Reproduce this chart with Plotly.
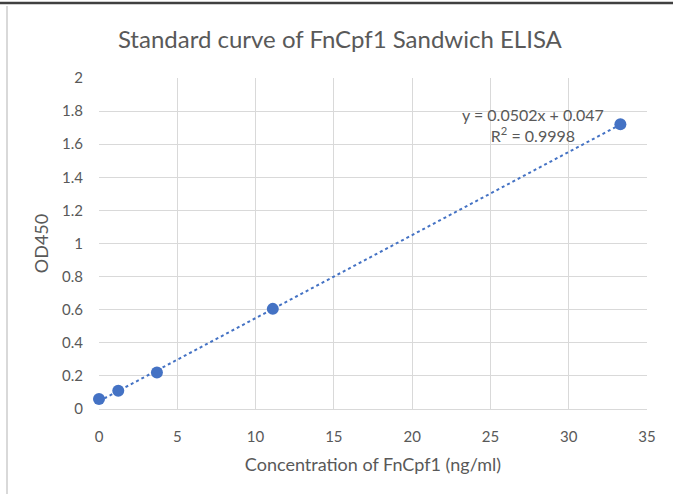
import plotly.graph_objects as go

# Data
concentration = [0, 1.23, 3.7, 11.1, 33.3]
od450 = [0.06, 0.11, 0.22, 0.605, 1.72]
slope = 0.0502
intercept = 0.047
r_squared = 0.9998
x_ticks = [0, 5, 10, 15, 20, 25, 30, 35]
y_ticks = [0, 0.2, 0.4, 0.6, 0.8, 1, 1.2, 1.4, 1.6, 1.8, 2]

blue = "#4472C4"
gray_txt = "#595959"
grid = "#D9D9D9"
font_family = "Lato, 'Open Sans', sans-serif"

W, H = 673, 494
ML, MR, MT, MB = 99, 26, 78, 85
PW, PH = W - ML - MR, H - MT - MB

trend_x = [min(concentration), max(concentration)]
trend_y = [slope * x + intercept for x in trend_x]

fig = go.Figure()
fig.add_trace(go.Scatter(x=trend_x, y=trend_y, mode="lines",
                         line=dict(color=blue, width=2, dash="dot"),
                         hoverinfo="skip", showlegend=False, cliponaxis=False))
fig.add_trace(go.Scatter(x=concentration, y=od450, mode="markers",
                         marker=dict(color=blue, size=12),
                         showlegend=False, cliponaxis=False))

fig.update_layout(
    width=W, height=H,
    paper_bgcolor="white", plot_bgcolor="white",
    margin=dict(l=ML, r=MR, t=MT, b=MB),
    font=dict(family=font_family, color=gray_txt, size=15),
    title=dict(text="Standard curve of FnCpf1 Sandwich ELISA",
               x=0.505, xanchor="center", y=1 - 40 / H, yanchor="middle",
               font=dict(size=24, color=gray_txt, family=font_family)),
    xaxis=dict(range=[0, 35], tickvals=x_ticks, showgrid=True, gridcolor=grid,
               gridwidth=1, zeroline=False, showline=True, linecolor=grid,
               ticks="", ticklabelstandoff=14,
               tickfont=dict(size=15, color=gray_txt),
               title=dict(text="Concentration of FnCpf1 (ng/ml)", standoff=14,
                          font=dict(size=18, color=gray_txt))),
    yaxis=dict(range=[0, 2], tickvals=y_ticks, showgrid=True, gridcolor=grid,
               gridwidth=1, zeroline=False, showline=False,
               ticks="", ticklabelstandoff=15,
               tickfont=dict(size=15, color=gray_txt),
               title=dict(text="OD450", standoff=8,
                          font=dict(size=18, color=gray_txt))),
    annotations=[
        dict(x=27.7, y=1.716, xref="x", yref="y",
             text=f"y = {slope}x + {intercept}<br>R<sup>2</sup> = {r_squared}",
             showarrow=False, align="center",
             font=dict(size=16, color=gray_txt, family=font_family)),
    ],
    shapes=[
        dict(type="line", xref="paper", yref="paper",
             x0=-ML / PW, x1=1 + MR / PW, y0=1 + 75 / PH, y1=1 + 75 / PH,
             line=dict(color="#404040", width=2.5)),
        dict(type="line", xref="paper", yref="paper",
             x0=-92 / PW, x1=-92 / PW, y0=-MB / PH, y1=1 + 72 / PH,
             line=dict(color="#D9D9D9", width=2)),
    ],
)

fig.write_html("out.html",
               config={"displayModeBar": False},
               post_script="document.body.style.margin='0';")
